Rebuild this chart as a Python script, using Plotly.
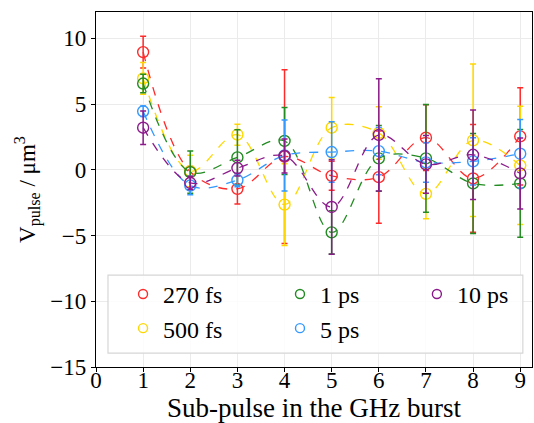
import plotly.graph_objects as go

# sub-pulse index in the GHz burst
pulse = [1, 2, 3, 4, 5, 6, 7, 8, 9]

labels = ["270 fs", "500 fs", "1 ps", "5 ps", "10 ps"]
colors = ["#ff2a2a", "#ffd700", "#228b22", "#3399ff", "#8b1a8b"]

v_270fs = [8.95, -0.15, -1.45, 1.0, -0.46, -0.56, 2.44, -0.66, 2.54]
e_270fs = [1.2, 0.4, 1.15, 6.6, 1.1, 3.5, 2.5, 4.1, 3.7]
v_500fs = [6.95, -0.1, 2.67, -2.65, 3.2, 2.8, -1.83, 2.24, 0.33]
e_500fs = [1.2, 1.2, 0.8, 3.1, 2.3, 2.0, 1.9, 5.8, 4.5]
v_1ps = [6.56, -0.18, 0.94, 2.19, -4.76, 0.87, 0.87, -1.04, -1.04]
e_1ps = [0.7, 1.6, 2.1, 2.55, 1.65, 2.5, 4.1, 3.8, 4.1]
v_5ps = [4.45, -1.2, -0.79, 1.09, 1.35, 1.42, 0.56, 0.64, 1.22]
e_5ps = [0.4, 0.7, 0.5, 2.7, 2.3, 1.8, 1.5, 1.8, 2.6]
v_10ps = [3.2, -1.0, 0.13, 1.05, -2.83, 2.65, 0.41, 1.14, -0.28]
e_10ps = [1.27, 0.5, 0.6, 1.3, 3.6, 4.27, 2.2, 3.4, 2.7]

values = [v_270fs, v_500fs, v_1ps, v_5ps, v_10ps]
errors = [e_270fs, e_500fs, e_1ps, e_5ps, e_10ps]
# legend laid out in 3 columns like matplotlib ncol=3 (column-major)
legend_col = ["legend", "legend", "legend2", "legend2", "legend3"]

FONT = "Liberation Serif"
LEG_FONT = dict(family=FONT, size=24, color="black")

fig = go.Figure()
for lab, col, v, e, leg in zip(labels, colors, values, errors, legend_col):
    fig.add_trace(
        go.Scatter(
            x=pulse,
            y=v,
            mode="lines+markers",
            line=dict(color=col, width=1.3, dash="dash", shape="spline", smoothing=1.0),
            marker=dict(symbol="circle-open", size=11, color=col, line=dict(width=1.4, color=col)),
            error_y=dict(type="data", array=e, color=col, thickness=1.5, width=3),
            showlegend=False,
        )
    )
    # legend-only entry: hollow marker without the dashed line
    fig.add_trace(
        go.Scatter(
            x=[None],
            y=[None],
            mode="markers",
            marker=dict(symbol="circle-open", size=9, color=col, line=dict(width=1.4, color=col)),
            name=lab,
            legend=leg,
            legendgroup=lab,
        )
    )

axis_common = dict(
    showline=True,
    linecolor="black",
    linewidth=1.2,
    mirror=True,
    ticks="outside",
    ticklen=4,
    tickcolor="black",
    showgrid=True,
    gridcolor="#ebebeb",
    gridwidth=1,
    zeroline=False,
    tickfont=dict(family=FONT, size=23, color="black"),
)

fig.update_xaxes(
    range=[0, 9.25],
    tick0=0,
    dtick=1,
    ticklabelstandoff=-12,
    title=dict(text="Sub-pulse in the GHz burst", font=dict(family=FONT, size=27, color="black"), standoff=6),
    **axis_common,
)
fig.update_yaxes(
    range=[-15, 12],
    tick0=-15,
    dtick=5,
    title=dict(text="V<sub>pulse</sub> / μm<sup>3</sup>", font=dict(family=FONT, size=23, color="black"), standoff=8),
    **axis_common,
)

leg_common = dict(
    orientation="v",
    yanchor="top",
    xanchor="left",
    y=0.268,
    bgcolor="rgba(0,0,0,0)",
    borderwidth=0,
    font=LEG_FONT,
    itemwidth=30,
    tracegroupgap=0,
)

fig.update_layout(
    width=534,
    height=423,
    margin=dict(l=96, r=2, t=12, b=56),
    plot_bgcolor="white",
    paper_bgcolor="white",
    font=dict(family=FONT, color="black"),
    legend=dict(x=0.062, **leg_common),
    legend2=dict(x=0.422, **leg_common),
    legend3=dict(x=0.736, **leg_common),
    shapes=[
        dict(
            type="rect",
            xref="paper",
            yref="paper",
            x0=0.0275,
            x1=0.979,
            y0=0.039,
            y1=0.259,
            line=dict(color="#d6d6d6", width=1.2),
            fillcolor="rgba(255,255,255,0.85)",
            layer="above",
        )
    ],
)

fig.write_html(
    "out.html",
    config={"displayModeBar": False},
    post_script="document.body.style.margin='0';",
)
